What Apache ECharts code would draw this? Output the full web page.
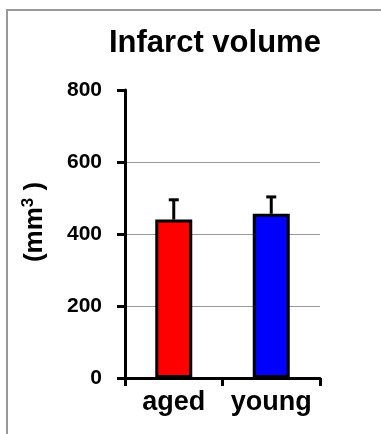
<!DOCTYPE html>
<html>
<head>
<meta charset="utf-8">
<script src="https://cdn.jsdelivr.net/npm/echarts@6/dist/echarts.min.js"></script>
<style>
  html, body { margin: 0; padding: 0; background: #fff; }
  #chart { width: 381px; height: 434px; }
</style>
</head>
<body>
<div id="chart"></div>
<script>
// data
const groups = ["aged", "young"];
const volumes = [440, 456];
const errors = [55, 47];
const barColors = ["#ff0000", "#0000ff"];
const yTicks = [0, 200, 400, 600, 800];

const FONT = "Liberation Sans, Arial, sans-serif";

const chart = echarts.init(document.getElementById("chart"));

// upper-only error bar with a small cap
function renderError(params, api) {
  const i = api.value(0);
  const base = api.coord([i, api.value(1)]);
  const top = api.coord([i, api.value(1) + api.value(2)]);
  const style = { stroke: "#000", lineWidth: 3 };
  return {
    type: "group",
    children: [
      { type: "line", shape: { x1: top[0], y1: base[1], x2: top[0], y2: top[1] }, style },
      { type: "line", shape: { x1: top[0] - 5, y1: top[1], x2: top[0] + 5, y2: top[1] }, style }
    ]
  };
}

chart.setOption({
  animation: false,
  title: {
    text: "Infarct volume",
    left: 104,
    top: 23,
    textStyle: { fontFamily: FONT, fontSize: 31, fontWeight: "bold", color: "#000" }
  },
  graphic: [{
    type: "rect",
    shape: { x: 7, y: 10, width: 420, height: 460 },
    style: { fill: null, stroke: "#999", lineWidth: 2 },
    silent: true
  }],
  grid: { left: 125, right: 61, top: 90, bottom: 56 },
  xAxis: {
    type: "category",
    data: groups,
    axisLine: { lineStyle: { color: "#000", width: 3 } },
    axisTick: { show: true, length: 8, lineStyle: { color: "#000", width: 3 } },
    axisLabel: { interval: 0, margin: 11, fontFamily: FONT, fontSize: 27, fontWeight: "bold", color: "#000" }
  },
  yAxis: {
    type: "value",
    min: yTicks[0],
    max: yTicks[yTicks.length - 1],
    interval: 200,
    name: "(mm{sup|3} )",
    nameLocation: "middle",
    nameGap: 76,
    nameTextStyle: {
      fontFamily: FONT, fontSize: 26, fontWeight: "bold", color: "#000",
      padding: [0, 0, 0, 24],
      rich: { sup: { fontFamily: FONT, fontSize: 17, fontWeight: "bold", color: "#000", verticalAlign: "top", padding: [0, 0, 12, 0] } }
    },
    axisLine: { show: true, lineStyle: { color: "#000", width: 3 } },
    axisTick: { show: true, length: 8, lineStyle: { color: "#000", width: 3 } },
    axisLabel: { margin: 23, fontFamily: FONT, fontSize: 21, fontWeight: "bold", color: "#000" },
    splitLine: { show: true, lineStyle: { color: ["#999", "#999", "#999", "#999", "rgba(0,0,0,0)"], width: 1 } }
  },
  series: [
    {
      type: "bar",
      barWidth: 37,
      data: volumes.map((v, i) => ({ value: v, itemStyle: { color: barColors[i] } })),
      itemStyle: { borderColor: "#000", borderWidth: 3 }
    },
    {
      type: "custom",
      renderItem: renderError,
      data: volumes.map((v, i) => [i, v, errors[i]]),
      z: 1
    }
  ]
});
</script>
</body>
</html>
